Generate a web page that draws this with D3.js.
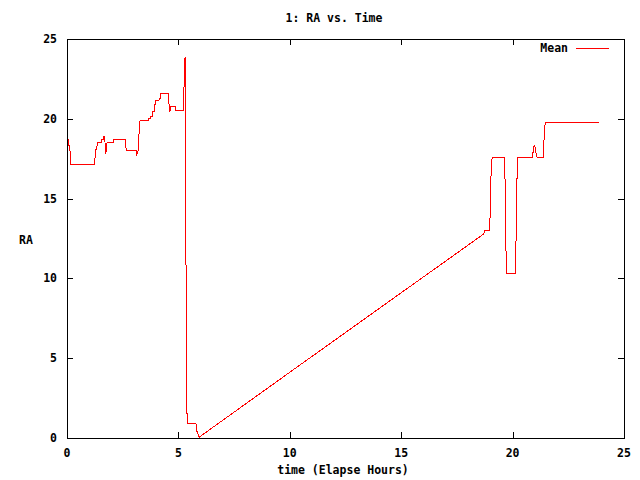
<!DOCTYPE html>
<html><head><meta charset="utf-8">
<script src="https://cdn.jsdelivr.net/npm/d3@7"></script>
<style>body{margin:0;background:#fff}svg text{font-family:"DejaVu Sans Mono",monospace;font-size:11.5px;font-weight:bold}</style>
</head><body><svg id="c" width="640" height="480"></svg>
<script>
const title = "1: RA vs. Time";
const xLabel = "time (Elapse Hours)";
const yLabel = "RA";
const seriesName = "Mean";
const xTicks = [0, 5, 10, 15, 20, 25];
const yTicks = [0, 5, 10, 15, 20, 25];
const timeHours = [0.00,0.06,0.08,0.13,0.15,1.24,1.28,1.33,1.36,1.55,1.57,1.63,1.65,1.70,1.71,1.74,1.77,1.80,2.08,2.10,2.61,2.63,2.68,3.10,3.13,3.20,3.23,3.28,3.65,3.67,3.75,3.77,3.84,3.86,3.92,3.94,3.97,3.99,4.13,4.14,4.20,4.22,4.55,4.59,4.62,4.65,4.85,4.87,5.22,5.24,5.27,5.30,5.31,5.36,5.39,5.79,5.81,5.93,10.00,15.00,18.70,18.75,18.96,19.00,19.03,19.08,19.63,19.67,19.70,19.72,20.12,20.15,20.19,20.22,20.89,20.92,20.96,21.00,21.03,21.10,21.38,21.40,21.42,21.47,23.90];
const raMean = [18.7,18.7,18.3,18.3,17.15,17.15,18.05,18.05,18.5,18.5,18.7,18.7,18.9,18.9,18.25,17.77,18.2,18.5,18.5,18.7,18.7,18.3,18.0,18.0,17.77,18.05,19.0,19.9,19.9,20.0,20.0,20.15,20.15,20.45,20.45,20.9,20.9,21.15,21.15,21.25,21.3,21.6,21.6,20.7,20.45,20.75,20.75,20.55,20.55,21.35,23.0,23.9,18.1,6.56,0.9,0.9,0.5,0.05,4.12,9.1,12.78,12.99,12.99,14.18,16.4,17.59,17.59,15.75,12.09,10.28,10.28,12.09,15.75,17.59,17.59,17.94,18.3,18.3,17.94,17.59,17.59,18.1,19.26,19.78,19.78];

const svg = d3.select("#c");
const L = 67, R = 624, T = 39, B = 438;
const x = d3.scaleLinear().domain([0, 25]).range([L, R]);
const y = d3.scaleLinear().domain([0, 25]).range([B, T]);
const tl = 6;

const g = svg.append("g").attr("stroke", "#000").attr("shape-rendering", "crispEdges");
xTicks.forEach(v => {
  const px = Math.round(x(v)) + 0.5;
  g.append("line").attr("x1", px).attr("x2", px).attr("y1", B).attr("y2", B - tl);
  g.append("line").attr("x1", px).attr("x2", px).attr("y1", T).attr("y2", T + tl);
});
yTicks.forEach(v => {
  const py = Math.round(y(v)) + 0.5;
  g.append("line").attr("x1", L).attr("x2", L + tl).attr("y1", py).attr("y2", py);
  g.append("line").attr("x1", R).attr("x2", R - tl).attr("y1", py).attr("y2", py);
});
xTicks.forEach(v => svg.append("text").attr("x", x(v)).attr("y", 457).attr("text-anchor", "middle").text(v));
yTicks.forEach(v => svg.append("text").attr("x", 57).attr("y", y(v) + 4).attr("text-anchor", "end").text(v));

const pts = timeHours.map((t, i) => [t, raMean[i]]);
svg.append("path").datum(pts)
  .attr("fill", "none").attr("stroke", "#ff0000").attr("stroke-width", 1)
  .attr("shape-rendering", "crispEdges")
  .attr("d", d3.line().x(d => x(d[0])).y(d => y(d[1])));

svg.append("rect").attr("x", L + 0.5).attr("y", T + 0.5).attr("width", R - L).attr("height", B - T)
  .attr("fill", "none").attr("stroke", "#000").attr("shape-rendering", "crispEdges");

svg.append("text").attr("x", 568).attr("y", 52).attr("text-anchor", "end").text(seriesName);
svg.append("line").attr("x1", 576).attr("x2", 609).attr("y1", 48.5).attr("y2", 48.5)
  .attr("stroke", "#ff0000").attr("shape-rendering", "crispEdges");

svg.append("text").attr("x", 334).attr("y", 22).attr("text-anchor", "middle").text(title);
svg.append("text").attr("x", 343).attr("y", 474).attr("text-anchor", "middle").text(xLabel);
svg.append("text").attr("x", 26).attr("y", 244).attr("text-anchor", "middle").text(yLabel);
</script></body></html>
